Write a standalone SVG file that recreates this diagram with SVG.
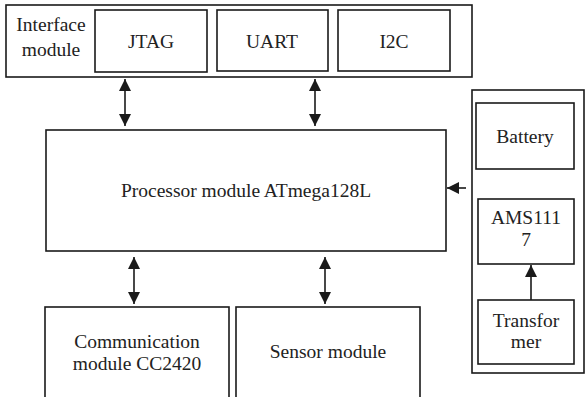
<svg xmlns="http://www.w3.org/2000/svg" width="585" height="397" viewBox="0 0 585 397">
<style>
.b{fill:#fff;stroke:#1a1a1a;stroke-width:1.6}
.t{font-family:"Liberation Serif","Times New Roman",Times,serif;font-size:19.5px;fill:#222;text-anchor:middle}
.c{stroke:#1a1a1a;stroke-width:1.6;fill:none}
</style>
<defs>
<marker id="ah" viewBox="0 0 12 12" refX="12" refY="6" markerWidth="12" markerHeight="12" markerUnits="userSpaceOnUse" orient="auto-start-reverse">
<path d="M0,0 L12,6 L0,12 z" fill="#1a1a1a"/>
</marker>
</defs>
<rect width="585" height="397" fill="#fff"/>
<g id="interface">
<rect class="b" x="6" y="5" width="466" height="72"/>
<text class="t" x="51" y="31">Interface</text>
<text class="t" x="51" y="56">module</text>
</g>
<g id="jtag">
<rect class="b" x="95" y="10" width="112" height="62"/>
<text class="t" x="151" y="48">JTAG</text>
</g>
<g id="uart">
<rect class="b" x="217" y="10" width="111" height="61"/>
<text class="t" x="272" y="48">UART</text>
</g>
<g id="i2c">
<rect class="b" x="338" y="10" width="112" height="61"/>
<text class="t" x="394" y="48">I2C</text>
</g>
<g id="processor">
<rect class="b" x="46" y="130" width="400" height="121"/>
<text class="t" x="246" y="197">Processor module ATmega128L</text>
</g>
<g id="power">
<rect class="b" x="472" y="90" width="112" height="283"/>
</g>
<g id="battery">
<rect class="b" x="476" y="103" width="98" height="66"/>
<text class="t" x="525" y="143">Battery</text>
</g>
<g id="ams1117">
<rect class="b" x="478" y="199" width="96" height="65"/>
<text class="t" x="526" y="224">AMS111</text>
<text class="t" x="526" y="246">7</text>
</g>
<g id="transformer">
<rect class="b" x="478" y="300" width="96" height="64"/>
<text class="t" x="526" y="327">Transfor</text>
<text class="t" x="526" y="348">mer</text>
</g>
<g id="comm">
<rect class="b" x="45" y="307" width="184" height="95"/>
<text class="t" x="137" y="348">Communication</text>
<text class="t" x="137" y="370">module CC2420</text>
</g>
<g id="sensor">
<rect class="b" x="236" y="307" width="184" height="95"/>
<text class="t" x="328" y="358">Sensor module</text>
</g>
<g id="connectors">
<line class="c" x1="125" y1="79" x2="125" y2="126" marker-start="url(#ah)" marker-end="url(#ah)"/>
<line class="c" x1="315" y1="79" x2="315" y2="126" marker-start="url(#ah)" marker-end="url(#ah)"/>
<line class="c" x1="134" y1="257" x2="134" y2="304" marker-start="url(#ah)" marker-end="url(#ah)"/>
<line class="c" x1="325" y1="257" x2="325" y2="304" marker-start="url(#ah)" marker-end="url(#ah)"/>
<line class="c" x1="466" y1="188" x2="447" y2="188" marker-end="url(#ah)"/>
<line class="c" x1="531" y1="300" x2="531" y2="265" marker-end="url(#ah)"/>
</g>
</svg>
